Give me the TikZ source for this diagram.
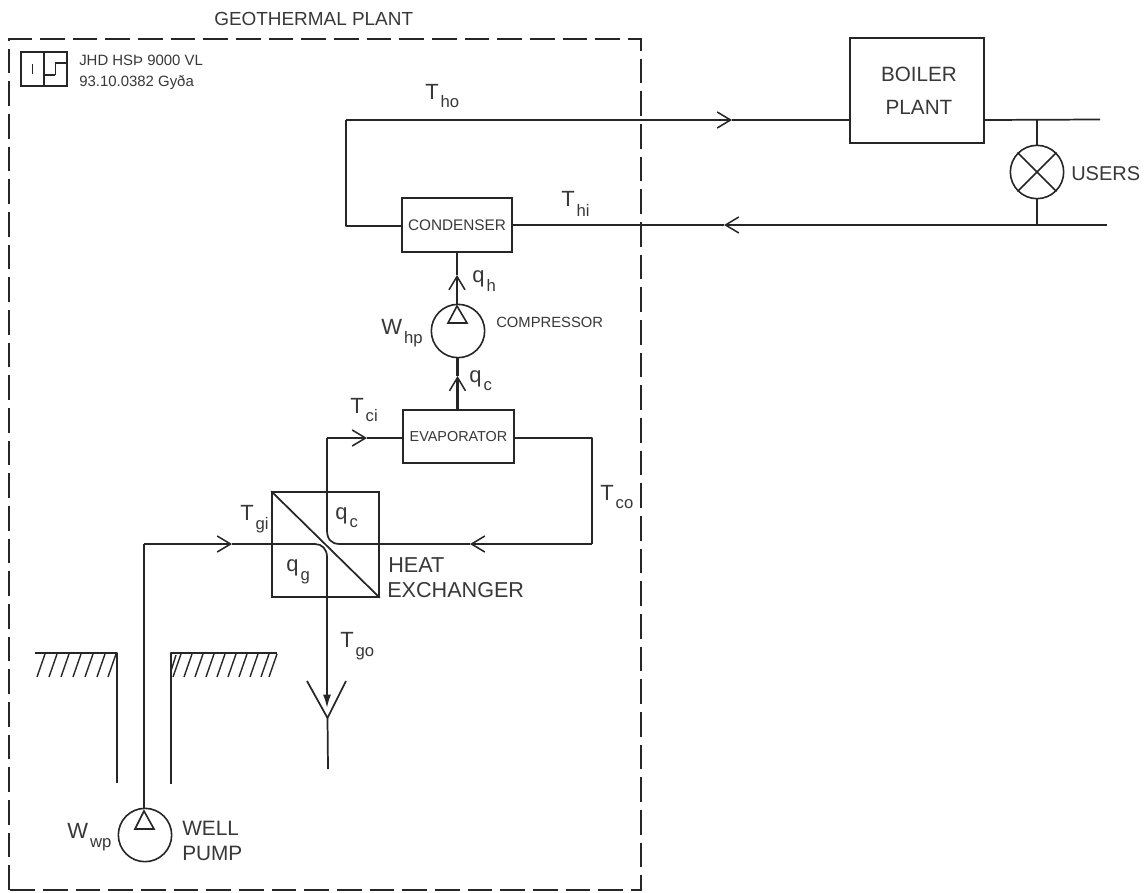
\documentclass[tikz,border=0pt]{standalone}
\usepackage{fontspec}
\setmainfont{Liberation Sans}
\usetikzlibrary{arrows.meta,shapes.geometric}
\newcommand\sz[1]{\fontsize{#1}{#1}\selectfont}
\newcommand\lsub[3][-6pt]{\sz{16.5}#2\hspace{1.5pt}\raisebox{#1}{\sz{12.5}#3}}
\definecolor{ink}{gray}{0.15}
\definecolor{txt}{gray}{0.22}
\tikzset{
  x=0.75pt,y=-0.75pt,
  pipe/.style={draw=ink,line width=1.3pt,line join=round},
  flow/.style={pipe,-{Straight Barb[length=10pt,width=12pt,line width=1.15pt]}},
  heavy/.style={line width=1.6pt},
  thin pipe/.style={draw=ink,line width=1pt},
  lab/.style={text=txt,inner sep=0pt,anchor=base west},
  unit/.style={draw=ink,line width=1.2pt,inner sep=0pt,text=txt,align=center},
  pumpc/.style={draw=ink,line width=1.2pt,circle,inner sep=0pt,minimum size=40pt},
  tri/.style={draw=ink,line width=1.2pt,line join=miter},
  hatch/.style={draw=ink,line width=1.05pt},
  frame/.style={draw=ink,line width=1.25pt,dash pattern=on 18.5pt off 6pt},
}
\begin{document}
\begin{tikzpicture}
\useasboundingbox (0,0) rectangle (1144,892);
\fill[white] (0,0) rectangle (1144,892);
% plant frame
\node[lab,font=\sz{14.2}] (title) at (214,26) {GEOTHERMAL PLANT};
\draw[frame] (9,890) -- (9,39) -- (641,39) -- (641,890) -- cycle;
% logo
\node[draw=ink,line width=1pt,minimum width=34.5pt,minimum height=25.5pt,inner sep=0pt] (logo) at (44,69) {};
\draw[thin pipe] (44,52) -- (44,86);
\draw[draw=ink,line width=0.7pt] (32,64) -- (32,74);
\draw[thin pipe] (67,63) -- (55,63);
\draw[draw=ink,line width=0.6pt] (55,63) -- (55,75);
\draw[thin pipe] (44,75) -- (55,75);
\node[lab,font=\sz{11.2}] (logoA) at (79,65) {JHD HSÞ 9000 VL};
\node[lab,font=\sz{11.2}] (logoB) at (79,86) {93.10.0382 Gyða};
% units
\node[unit,font=\sz{11.5},minimum width=82.5pt,minimum height=40.5pt] (cond) at (457,225) {CONDENSER};
\node[unit,font=\sz{10.8},minimum width=83.25pt,minimum height=39.75pt] (evap) at (458.5,436.5) {EVAPORATOR};
\node[unit,font=\sz{15.5},minimum width=100.5pt,minimum height=78.75pt,line width=1.3pt] (boiler) at (917,90.5) {};
\node[lab,font=\sz{15.5},anchor=base] (boilerA) at (919,81) {BOILER};
\node[lab,font=\sz{15.5},anchor=base] (boilerB) at (919,114) {PLANT};
\node[pumpc] (comp) at (458,331) {};
\node[pumpc] (pump) at (145,835) {};
\node[pumpc] (users) at (1037,172) {};
\draw[tri] (457,306) -- (448,323) -- (467,323) -- cycle;
\draw[tri] (144,811) -- (135,829) -- (154,829) -- cycle;
\draw[thin pipe,line width=1.1pt] (users.north west) -- (users.south east);
\draw[thin pipe,line width=1.1pt] (users.north east) -- (users.south west);
% heat exchanger
\node[draw=ink,line width=1.2pt,minimum width=80.25pt,minimum height=78.75pt,inner sep=0pt] (hx) at (325.5,544.5) {};
\draw[pipe] (hx.north west) -- (hx.south east);
% named junctions
\coordinate (thoL) at (346,120);
\coordinate (thoA) at (732,120);
\coordinate (condW) at (346,226);
\coordinate (boilW) at (boiler.west |- thoL);
\coordinate (boilE) at (boiler.east |- thoL);
\coordinate (supR) at (1100,119.5);
\coordinate (retR) at (1107,225);
\coordinate (thiA) at (724,225);
\coordinate (qhA) at (457,275);
\coordinate (qcA) at (457.5,376);
\coordinate (tciC) at (327,438);
\coordinate (tciA) at (367,438);
\coordinate (tcoA) at (592,438);
\coordinate (tcoB) at (592,544);
\coordinate (tcoC) at (470,544);
\coordinate (hotA) at (232,544);
\coordinate (wellT) at (144,544);
\coordinate (hxS) at (327,597);
\coordinate (tgoA) at (327,708);
\coordinate (drainV) at (327.5,718);
\coordinate (drainE) at (328,769);
\coordinate (drainL) at (307,681);
\coordinate (drainR) at (346,681);
% hot water loop
\draw[flow] (thoL) -- (thoA);
\draw[pipe] (thoA) -- (boilW);
\draw[pipe] (thoL) -- (condW) -- (cond.west |- condW);
\draw[pipe] (boilE) -- (supR);
\draw[pipe] (boilE -| users) -- (users.north);
\draw[pipe] (users.south) -- (users |- retR);
\draw[flow] (retR) -- (thiA);
\draw[pipe] (thiA) -- (cond.east |- thiA);
% heat pump
\draw[flow,heavy] (comp.north -| qhA) -- (qhA);
\draw[pipe,heavy] (qhA) -- (cond.south -| qhA);
\draw[flow,heavy] (evap.north -| qcA) -- (qcA);
\draw[pipe,heavy] (qcA) -- (comp.south -| qcA);
% circulation
\draw[pipe] (327,530) .. controls (327,539) and (331,544) .. (340,544) -- (tcoC);
\draw[flow] (tcoB) -- (tcoC);
\draw[pipe] (evap.east |- tcoA) -- (tcoA) -- (tcoB);
\draw[pipe] (327,530) -- (tciC);
\draw[flow] (tciC) -- (tciA);
\draw[pipe] (tciA) -- (evap.west |- tciA);
% geothermal side
\draw[pipe] (pump.north -| wellT) -- (wellT);
\draw[flow] (wellT) -- (hotA);
\draw[pipe] (hotA) -- (315,544) .. controls (322,544) and (327,549) .. (327,557) -- (hxS);
\draw[pipe,-{Latex[length=10pt,width=6pt]}] (hxS) -- (tgoA);
\draw[pipe] (drainL) -- (drainV) -- (drainR);
\draw[pipe] (drainV) -- (drainE);
% ground and well casing
\draw[pipe] (35,653) -- (117,653) -- (117,783);
\draw[pipe] (277,653) -- (171,653) -- (171,784);
\foreach \x in {45,57,69,81,93,105,116} \draw[hatch] (\x,654) -- (\x-8,677);
\foreach \x in {181,192,203,214,225,236,247,258,269,277} \draw[hatch] (\x,654) -- (\x-8,677);
\draw[hatch] (171,671) -- (176,655);
% labels
\node[lab] (tho) at (425,99) {\lsub{T}{ho}};
\node[lab] (thi) at (561,206) {\lsub[-8pt]{T}{hi}};
\node[lab] (tci) at (350,413) {\lsub{T}{ci}};
\node[lab] (tco) at (600,500) {\lsub{T}{co}};
\node[lab] (tgi) at (240,520) {\lsub[-7pt]{T}{gi}};
\node[lab] (tgo) at (340,647) {\lsub[-7pt]{T}{go}};
\node[lab] (qh) at (472,282) {\lsub[-7pt]{q}{h}};
\node[lab] (qc) at (469,382) {\lsub{q}{c}};
\node[lab] (qchx) at (335,519) {\lsub{q}{c}};
\node[lab] (qg) at (286,571) {\lsub[-7pt]{q}{g}};
\node[lab] (whp) at (381,334) {\lsub[-7pt]{W}{hp}};
\node[lab] (wwp) at (67,838) {\lsub[-7pt]{W}{wp}};
\node[lab,font=\sz{11.1}] (compL) at (496,327) {COMPRESSOR};
\node[lab,font=\sz{15.6}] (wellL) at (182,835) {WELL};
\node[lab,font=\sz{15.6}] (pumpL) at (182,860) {PUMP};
\node[lab,font=\sz{15}] (usersL) at (1071,180) {USERS};
\node[lab,font=\sz{16.2}] (heatL) at (388,572) {HEAT};
\node[lab,font=\sz{16.2}] (exL) at (387,597) {EXCHANGER};
\end{tikzpicture}
\end{document}
